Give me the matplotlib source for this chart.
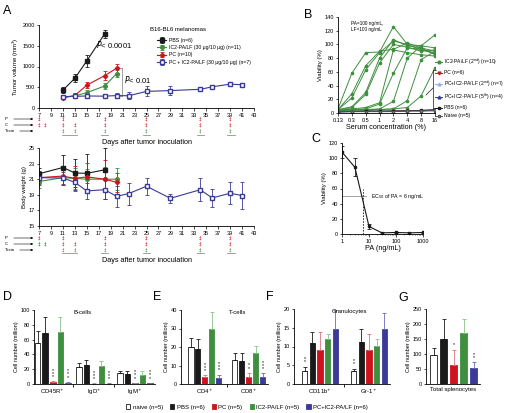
import numpy as np
import matplotlib.pyplot as plt
from matplotlib.lines import Line2D
from matplotlib.patches import Patch
from matplotlib.transforms import blended_transform_factory

plt.rcParams['font.family'] = ['Liberation Sans', 'DejaVu Sans']
plt.rcParams['font.size'] = 4
plt.rcParams['axes.linewidth'] = 0.6
plt.rcParams['xtick.major.width'] = 0.5
plt.rcParams['ytick.major.width'] = 0.5
plt.rcParams['xtick.major.size'] = 1.8
plt.rcParams['ytick.major.size'] = 1.8
plt.rcParams['xtick.major.pad'] = 1.5
plt.rcParams['ytick.major.pad'] = 1.0
plt.rcParams['axes.labelpad'] = 1.5

green = '#3f8f3f'
red = '#d0121c'
blue = '#3a3a98'
lightblue = '#98b0e0'
gray = '#909090'

# ---- panel A: tumour volume ----
days_pbs = [11, 13, 15, 18]
vol_pbs = [430, 715, 1135, 1790]
vol_pbs_err = [70, 100, 150, 100]
days_ic2 = [11, 13, 15, 18, 20]
vol_ic2 = [260, 290, 370, 530, 830]
vol_ic2_err = [50, 60, 70, 80, 90]
days_pc = [11, 13, 15, 18, 20]
vol_pc = [245, 300, 550, 780, 960]
vol_pc_err = [40, 50, 70, 100, 110]
days_combo = [11, 13, 15, 18, 20, 22, 25, 29, 34, 36, 39, 41]
vol_combo = [275, 280, 290, 285, 300, 295, 400, 420, 450, 510, 575, 560]
vol_combo_err = [40, 40, 60, 40, 50, 90, 120, 110, 30, 30, 30, 30]

# ---- panel A: body weight ----
bw_days_pbs = [7, 11, 13, 15, 18]
bw_pbs = [21.7, 22.5, 21.8, 21.75, 22.2]
bw_pbs_err = [0.7, 1.6, 1.8, 2.5, 2.8]
bw_days_ic2 = [7, 11, 13, 15, 18, 20]
bw_ic2 = [20.7, 21.2, 21.1, 21.0, 21.0, 21.0]
bw_ic2_err = [0.8, 1.0, 1.3, 1.3, 1.6, 1.4]
bw_days_pc = [7, 11, 13, 15, 18, 20]
bw_pc = [21.2, 21.4, 21.1, 21.3, 21.0, 20.6]
bw_pc_err = [0.9, 1.2, 1.6, 1.8, 2.5, 1.2]
bw_days_combo = [7, 11, 13, 15, 18, 20, 22, 25, 29, 34, 36, 39, 41]
bw_combo = [21.2, 21.15, 20.6, 19.5, 19.65, 18.8, 19.15, 20.1, 18.55, 19.65, 18.6, 19.2, 18.9]
bw_combo_err = [0.8, 0.8, 1.0, 1.0, 1.2, 1.3, 1.4, 1.1, 0.6, 1.5, 1.2, 1.4, 1.7]

p_days = [7, 11, 18, 25, 34, 39]
c_days = [7, 8, 11, 13, 18, 25, 34, 39]
toxin_days = [11, 13, 18, 25, 34, 39]
toxin_spans = [(10.8, 13.4), (17.4, 18.6), (24.4, 25.6), (33.4, 34.6), (38.4, 39.8)]

# ---- panel B ----
serum = [0.125, 0.25, 0.5, 1, 2, 4, 8, 16]
ic2_mice = [
    [6, 58, 88, 89, 126, 100, 98, 114],
    [5, 28, 69, 90, 93, 102, 95, 90],
    [5, 22, 63, 88, 105, 100, 92, 88],
    [5, 9, 30, 80, 107, 98, 95, 85],
    [4, 8, 27, 73, 100, 96, 90, 92],
    [4, 6, 8, 15, 92, 88, 85, 83],
    [4, 5, 6, 13, 58, 95, 93, 86],
    [3, 5, 5, 6, 17, 80, 98, 95],
    [3, 4, 4, 5, 6, 8, 25, 66],
    [3, 4, 5, 5, 6, 18, 78, 90],
]
pc_b = [2, 2, 2, 2, 3, 4, 3, 4]
combo2_b = [2, 2, 2, 3, 3, 3, 4, 4]
combo5_b = [1, 2, 2, 2, 2, 3, 3, 3]
pbs_b = [2, 2, 3, 3, 3, 3, 4, 5]
naive_b = [2, 2, 2, 2, 2, 3, 3, 4]

# ---- panel C ----
pa_conc = [1, 3, 10, 30, 100, 300, 1000]
pa_viab = [108, 88, 10, 1.5, 2, 1.5, 2]
pa_err = [8, 12, 3, 1.5, 1, 1, 1]

# ---- panels D-G (order: naive, PBS, PC, IC2-PA/LF, PC+IC2-PA/LF) ----
groups_d = ['CD45R$^{+}$', 'IgD$^{+}$', 'IgM$^{+}$']
bcell = [[56, 23, 15], [69, 26, 13.5], [2.5, 0.5, 1], [70, 24, 12], [2, 0.4, 1]]
bcell_err = [[16, 5, 3], [22, 7, 4], [1, 0.3, 0.5], [21, 7, 5], [1, 0.3, 0.5]]
groups_e = ['CD4$^{+}$', 'CD8$^{+}$']
tcell = [[20, 13], [19, 12.5], [3.7, 4], [29.5, 16.5], [3.5, 3.7]]
tcell_err = [[5, 3.5], [5.5, 4], [1, 2], [9.5, 4], [1.5, 2]]
groups_f = ['CD11b$^{+}$', 'Gr-1$^{+}$']
gran = [[3.6, 3.6], [11, 11.3], [9.1, 9.1], [12, 10.1], [14.8, 14.6]]
gran_err = [[1, 0.5], [3, 3.5], [4.7, 4.2], [1.3, 1.8], [5, 4.3]]
groups_g = ['Total splenocytes']
total = [[97], [150], [62], [170], [52]]
total_err = [[23], [68], [53], [47], [20]]

bar_labels = ['naive (n=5)', 'PBS (n=6)', 'PC (n=5)', 'IC2-PA/LF (n=5)', 'PC+IC2-PA/LF (n=6)']
bar_fill = ['white', '#1a1a1a', red, green, blue]
bar_edge = ['#1a1a1a', '#1a1a1a', red, green, blue]
err_col = ['#1a1a1a', '#1a1a1a', '#e07080', '#8cc08c', '#6a6ab8']

W, H = 505, 413
fig = plt.figure(figsize=(W / 100, H / 100), dpi=100)


def axes_px(x0, y0, x1, y1):
    ax = fig.add_axes([x0 / W, 1 - y1 / H, (x1 - x0) / W, (y1 - y0) / H])
    ax.spines['top'].set_visible(False)
    ax.spines['right'].set_visible(False)
    return ax


def letter(x, y, s):
    fig.text(x / W, 1 - y / H, s, fontsize=9, ha='left', va='center')


def treatments(ax, top, bottom, dy):
    trans = blended_transform_factory(ax.transData, ax.transAxes)
    h = bottom - top
    rows = [(p_days, red, dy[0]), (c_days, red, dy[1]), (toxin_days, green, dy[2])]
    for days, col, d in rows:
        for day in days:
            ax.text(day, -d / h, '‡', color=col, fontsize=3.4, ha='center', va='center',
                    transform=trans, clip_on=False, family='DejaVu Sans')
    for a, b in toxin_spans:
        ax.plot([a, b], [-dy[3] / h] * 2, color=gray, lw=0.6, transform=trans, clip_on=False)
    for name, d in zip(['P', 'C', 'Toxin'], dy[:3]):
        yf = 1 - (bottom + d) / H
        fig.text(5 / W, yf, name, fontsize=3.2, va='center')
        ax.annotate('', xy=(36 / W, yf), xytext=(17 / W if name == 'Toxin' else 11 / W, yf),
                    xycoords='figure fraction',
                    arrowprops=dict(arrowstyle='-|>', lw=0.4, mutation_scale=3, color='black'))
    ax.text(0.5, -(dy[3] + 7) / h, 'Days after tumor inoculation', transform=ax.transAxes,
            ha='center', va='center', fontsize=5.2)


# ================= A: tumour volume =================
ax = axes_px(39, 25, 254, 108)
ebk = dict(capsize=1.3, elinewidth=0.6, capthick=0.6, lw=0.8, ms=2.6)
ax.errorbar(days_pbs, vol_pbs, yerr=vol_pbs_err, color='#1a1a1a', marker='s', label='PBS (n=6)', **ebk)
ax.errorbar(days_ic2, vol_ic2, yerr=vol_ic2_err, color=green, marker='o',
            label='IC2-PA/LF (30 μg/10 μg) (n=11)', **ebk)
ax.errorbar(days_pc, vol_pc, yerr=vol_pc_err, color=red, marker='D', label='PC (n=10)',
            **dict(ebk, ms=2.2))
ax.errorbar(days_combo, vol_combo, yerr=vol_combo_err, color=blue, marker='s', mfc='white',
            label='PC + IC2-PA/LF (30 μg/10 μg) (n=7)', **dict(ebk, ms=3.2))
ax.set_xlim(7, 43)
ax.set_ylim(0, 2000)
ax.set_xticks(range(7, 44, 2))
ax.set_yticks([0, 500, 1000, 1500, 2000])
ax.set_ylabel('Tumor volume (mm$^{3}$)', fontsize=4.3)
ax.text(16.6, 1520, '$P$< 0.0001', fontsize=5.5, va='center')
ax.text(21.3, 680, '$P$< 0.01', fontsize=5.5, va='center')
ax.plot([20.9, 20.9], [300, 960], color=gray, lw=0.6)
ax.plot([20.5, 20.9], [960, 960], color=gray, lw=0.6)
ax.plot([20.5, 20.9], [300, 300], color=gray, lw=0.6)
ax.text(0.515, 0.95, 'B16-BL6 melanomas', transform=ax.transAxes, fontsize=4.3, va='center')
ax.legend(loc='upper left', bbox_to_anchor=(0.54, 0.87), fontsize=3.7, frameon=False,
          handlelength=1.8, labelspacing=0.45, handletextpad=0.5, borderaxespad=0)
treatments(ax, 25, 108, [11, 17, 23, 27])

# ================= A: body weight =================
ax = axes_px(39, 148, 254, 226)
ax.errorbar(bw_days_pbs, bw_pbs, yerr=bw_pbs_err, color='#1a1a1a', marker='s', **ebk)
ax.errorbar(bw_days_ic2, bw_ic2, yerr=bw_ic2_err, color=green, marker='o', **ebk)
ax.errorbar(bw_days_pc, bw_pc, yerr=bw_pc_err, color=red, marker='D', **dict(ebk, ms=2.2))
ax.errorbar(bw_days_combo, bw_combo, yerr=bw_combo_err, color=blue, marker='s', mfc='white',
            **dict(ebk, ms=3.2))
ax.set_xlim(7, 43)
ax.set_ylim(15, 25)
ax.set_xticks(range(7, 44, 2))
ax.set_yticks([15, 17, 19, 21, 23, 25])
ax.set_ylabel('Body weight (g)', fontsize=4.3)
treatments(ax, 148, 226, [12, 18, 24, 27])

# ================= B =================
ax = axes_px(338, 17, 435, 113)
for m in ic2_mice:
    ax.plot(serum, m, color=green, lw=0.7, marker='o', ms=1.6)
ax.plot(serum, pc_b, color=red, lw=0.6, marker='v', ms=1.5)
ax.plot(serum, combo2_b, color=lightblue, lw=0.6, marker='^', ms=1.5)
ax.plot(serum, combo5_b, color=blue, lw=0.6, marker='^', ms=1.5)
ax.plot(serum, pbs_b, color='#1a1a1a', lw=0.6, marker='s', ms=1.4)
ax.plot(serum, naive_b, color='#555555', lw=0.6, marker='s', ms=1.4, mfc='white')
ax.set_xscale('log', base=2)
ax.set_xlim(0.125, 16)
ax.set_xticks(serum)
ax.set_xticklabels(['0.13', '0.3', '0.5', '1', '2', '4', '8', '16'])
ax.minorticks_off()
ax.set_ylim(0, 140)
ax.set_yticks(range(0, 141, 20))
ax.set_ylabel('Viability (%)', fontsize=4.3)
ax.set_xlabel('Serum concentration (%)', fontsize=5.2, labelpad=1)
ax.text(0.13, 0.96, 'PA=100 ng/mL,\nLF=100 ng/mL', transform=ax.transAxes, fontsize=3.4,
        va='top', linespacing=1.3)
handles_b = [
    Line2D([], [], color=green, marker='o', ms=2, lw=0.7),
    Line2D([], [], color=red, marker='v', ms=2, lw=0.7),
    Line2D([], [], color=lightblue, marker='^', ms=2, lw=0.7),
    Line2D([], [], color=blue, marker='^', ms=2, lw=0.7),
    Line2D([], [], color='#1a1a1a', marker='s', ms=2, lw=0.7),
    Line2D([], [], color='#555555', marker='s', ms=2, lw=0.7, mfc='white'),
]
labels_b = ['IC2-PA/LF (2$^{nd}$) (n=10)', 'PC (n=6)', 'PC+IC2-PA/LF (2$^{nd}$) (n=7)',
            'PC+IC2-PA/LF (5$^{th}$) (n=4)', 'PBS (n=6)', 'Naive (n=5)']
fig.legend(handles_b, labels_b, loc='upper left', bbox_to_anchor=(435 / W, 1 - 57 / H),
           fontsize=3.6, frameon=False, handlelength=1.4, labelspacing=0.62,
           handletextpad=0.4, borderaxespad=0, borderpad=0)
for xs, ys in [([433, 433], [70, 108]), ([433, 436], [70, 70]), ([433, 436], [108, 108]),
               ([433, 426], [88, 95])]:
    fig.add_artist(Line2D([x / W for x in xs], [1 - y / H for y in ys], color='#1a1a1a', lw=0.5))

# ================= C =================
ax = axes_px(342, 143, 423, 234)
ax.errorbar(pa_conc, pa_viab, yerr=pa_err, color='#1a1a1a', marker='s', ms=1.5, lw=0.8,
            capsize=1.2, elinewidth=0.6, capthick=0.6)
ax.plot([1, 7.5], [50, 50], color=gray, lw=0.6)
ax.plot([6, 6], [0, 60], color='#1a1a1a', lw=0.6, ls='--', dashes=(2, 1.5))
ax.text(12, 50, 'EC$_{50}$ of PA = 6 ng/mL', fontsize=3.8, va='center')
ax.set_xscale('log')
ax.set_xlim(1, 1000)
ax.set_xticks([1, 10, 100, 1000])
ax.set_xticklabels(['1', '10', '100', '1000'])
ax.tick_params(axis='x', which='minor', length=1, width=0.4)
ax.set_ylim(0, 120)
ax.set_yticks(range(0, 121, 20))
ax.set_ylabel('Viability (%)', fontsize=4.3)
ax.set_xlabel('PA (ng/mL)', fontsize=5.2, labelpad=1)


# ================= D-G bars =================
def bar_panel(ax, groups, vals, errs, step, width, xlim, ylim, yticks, stars, title=None, tx=0.5):
    n = len(groups)
    base = np.arange(n)
    for i in range(5):
        x = base + (i - 2) * step
        ax.bar(x, vals[i], width, color=bar_fill[i], edgecolor=bar_edge[i], linewidth=0.6,
               yerr=[np.zeros(n), errs[i]],
               error_kw=dict(ecolor=err_col[i], elinewidth=0.6, capsize=1.2, capthick=0.6))
    for g, i, s in stars:
        top = vals[i][g] + errs[i][g]
        ax.text(g + (i - 2) * step, top + (ylim[1] - ylim[0]) * 0.03, '\n'.join(s),
                ha='center', va='bottom', fontsize=3.8, linespacing=0.55)
    ax.set_xlim(*xlim)
    ax.set_ylim(*ylim)
    ax.set_yticks(yticks)
    ax.set_xticks(base)
    ax.set_xticklabels(groups, fontsize=4.3)
    ax.tick_params(axis='x', length=0, pad=2.5)
    if n > 1:
        ax.set_xticks(base[:-1] + 0.5, minor=True)
        ax.tick_params(axis='x', which='minor', length=2, width=0.6)
    ax.set_ylabel('Cell number (million)', fontsize=4)
    if title:
        ax.text(tx, 0.97, title, transform=ax.transAxes, ha='center', va='center', fontsize=4.3)


ax = axes_px(34, 310, 155, 384)
bar_panel(ax, groups_d, bcell, bcell_err, 0.183, 0.134, (-0.457, 2.49), (0, 100),
          range(0, 101, 20),
          [(0, 2, '***'), (0, 4, '***'), (1, 2, '***'), (1, 4, '***'), (2, 2, '***'), (2, 4, '***')],
          'B-cells', 0.4)
ax = axes_px(181, 310, 268, 384)
bar_panel(ax, groups_e, tcell, tcell_err, 0.159, 0.125, (-0.54, 1.44), (0, 40),
          range(0, 41, 10),
          [(0, 2, '***'), (0, 4, '***'), (1, 2, '**'), (1, 4, '***')], 'T-cells', 0.65)
ax = axes_px(294, 309, 390, 384)
bar_panel(ax, groups_f, gran, gran_err, 0.157, 0.112, (-0.53, 1.43), (0, 20),
          [0, 5, 10, 15, 20], [(0, 0, '**'), (1, 0, '**')], 'Granulocytes', 0.58)
ax = axes_px(426, 309, 480, 384)
bar_panel(ax, groups_g, total, total_err, 0.2, 0.14, (-0.55, 0.53), (0, 250),
          range(0, 251, 50), [(0, 2, '*'), (0, 4, '**')])

handles = [Patch(facecolor=bar_fill[i], edgecolor=bar_edge[i], linewidth=0.6) for i in range(5)]
fig.legend(handles, bar_labels, loc='center', bbox_to_anchor=(247 / W, 1 - 407 / H), ncol=5,
           fontsize=4.3, frameon=False, handlelength=0.7, handleheight=0.7,
           columnspacing=1.2, handletextpad=0.4)

letter(3, 11, 'A')
letter(304, 15, 'B')
letter(311, 139, 'C')
letter(3, 297, 'D')
letter(153, 297, 'E')
letter(266, 297, 'F')
letter(398, 298, 'G')

fig.savefig('out.png', dpi=100)
